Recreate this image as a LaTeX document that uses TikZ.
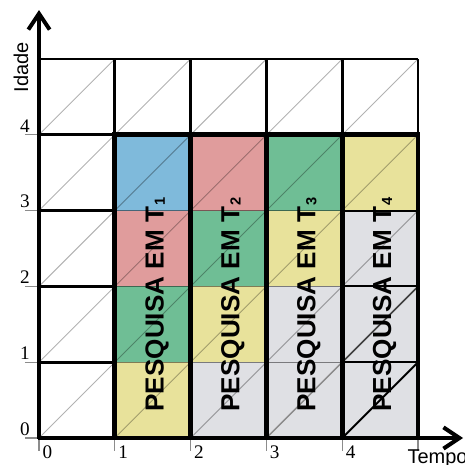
\documentclass[tikz,border=0pt]{standalone}
\usepackage{fontspec}
\setmainfont{Liberation Serif}
\newfontfamily\arialf{Liberation Sans}
\usetikzlibrary{arrows.meta}
\definecolor{cblue}{HTML}{7FBADB}
\definecolor{cpink}{HTML}{E09C9C}
\definecolor{cgreen}{HTML}{6FBE95}
\definecolor{cyellow}{HTML}{E8E29B}
\definecolor{cgray}{HTML}{DFE0E4}
\begin{document}
\begin{tikzpicture}[x=1cm,y=1cm,
  diag/.style={black, opacity=0.3, line width=0.35pt},
  gridthin/.style={black, line width=1.1pt},
  gridthick/.style={black, line width=1.8pt},
  innerline/.style={black, opacity=0.45, line width=0.45pt},
  innerdark/.style={black, line width=0.75pt},
  tickline/.style={black!45, line width=0.45pt},
  axisline/.style={black, line width=1.5pt, -{Straight Barb[length=6pt,width=8pt]}},
  numlab/.style={font=\fontsize{7.2}{8}\selectfont, inner sep=0pt},
  coltext/.style={font=\arialf\bfseries\fontsize{9.8}{11}\selectfont, rotate=90, anchor=base west, inner sep=0pt},
  axlab/.style={font=\arialf\fontsize{7.5}{9}\selectfont, inner sep=0pt}]
\useasboundingbox (-0.5145,-0.356) rectangle (5.620,5.778);
% fills
\foreach \x/\y/\c in {1/3/cblue,1/2/cpink,1/1/cgreen,1/0/cyellow,
  2/3/cpink,2/2/cgreen,2/1/cyellow,2/0/cgray,
  3/3/cgreen,3/2/cyellow,3/1/cgray,3/0/cgray,
  4/3/cyellow,4/2/cgray,4/1/cgray,4/0/cgray}
  \fill[\c] (\x,\y) rectangle ++(1,1);
% diagonals
\begin{scope}
\clip (0,0) rectangle (5,5);
\foreach \k in {-4,...,4} \draw[diag] (\k,0) -- ++(5,5);
\end{scope}
\draw[black!45, line width=0.5pt] (3,0) -- (4,1);
\draw[black!75, line width=0.6pt] (4,1) -- (5,2);
\draw[black, line width=0.75pt] (4,0) -- (5,1);
% inner horizontal lines
\foreach \x in {1,2,3} \foreach \y in {1,2,3} \draw[innerline] (\x,\y) -- ++(1,0);
\foreach \y in {1,2,3} \draw[innerdark] (4,\y) -- (5,\y);
% ticks
\foreach \y in {0,...,4} \draw[tickline] (-0.185,\y) -- (0,\y);
\foreach \x in {0,...,5} \draw[tickline] (\x,0) -- (\x,-0.17);
% white grid
\draw[gridthin] (0,5) -- (5,5);
\foreach \x in {1,...,5} \draw[gridthin] (\x,4) -- (\x,5);
\foreach \y in {1,...,4} \draw[gridthin] (0,\y) -- (1,\y);
% thick block
\draw[gridthick] (1,0) rectangle (5,4);
\foreach \x in {2,3,4} \draw[gridthick] (\x,0) -- (\x,4);
% axes
\coordinate (O) at (0,-0.01);
\coordinate (Oy) at (-0.01,0);
\coordinate (Ytip) at (0,5.646);
\coordinate (Xtip) at (5.594,0);
\draw[axisline] (O) -- (Ytip);
\draw[axisline] (Oy) -- (Xtip);
% labels
\foreach \y in {0,...,4} \node[numlab, anchor=base east] (yl\y) at (-0.115,\y+0.035) {\y};
\foreach \x in {0,...,4} \node[numlab, anchor=north west] (xl\x) at (\x+0.04,-0.1) {\x};
\foreach \c in {1,2,3,4}
  \node[coltext] (t\c) at (\c+0.645,0.343) {PESQUISA EM T\kern0.6pt\raisebox{-0.4pt}{\fontsize{5.5}{6}\selectfont\c}};
\node[axlab, rotate=90, anchor=base] (idade) at (-0.145,4.888) {Idade};
\node[axlab, anchor=base west] (tempo) at (4.855,-0.343) {Tempo};
\end{tikzpicture}
\end{document}
